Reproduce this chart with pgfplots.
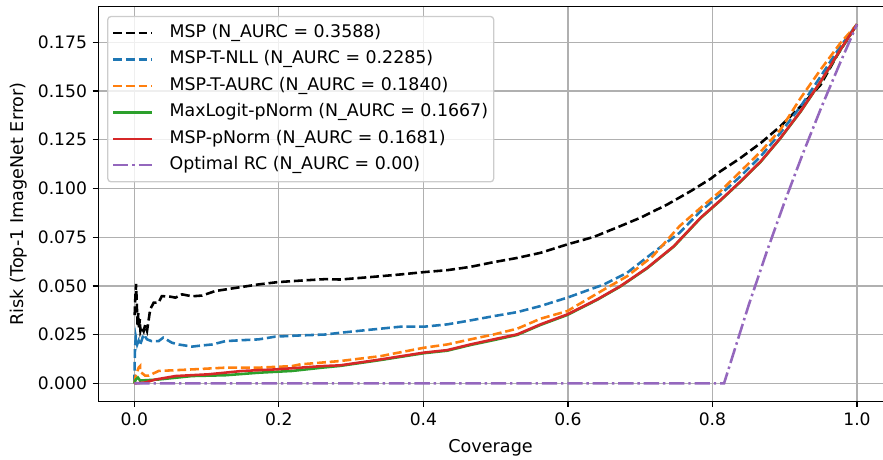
\documentclass[border=0pt]{standalone}
\usepackage{fontspec}
\setmainfont{DejaVu Sans}
\usepackage{pgfplots}
\pgfplotsset{compat=1.18}
\definecolor{tabblue}{HTML}{1F77B4}
\definecolor{taborange}{HTML}{FF7F0E}
\definecolor{tabgreen}{HTML}{2CA02C}
\definecolor{tabred}{HTML}{D62728}
\definecolor{tabpurple}{HTML}{9467BD}
\definecolor{gridgray}{HTML}{B0B0B0}
\definecolor{legedge}{HTML}{CCCCCC}
\begin{document}
\begin{tikzpicture}
\begin{axis}[
  scale only axis,
  width=490pt, height=246.6pt,
  xmin=-0.05, xmax=1.036,
  ymin=-0.0092, ymax=0.1934,
  axis x line*=box, axis y line*=left,
  axis line style={-, line width=0.8pt, black},
  xtick={0,0.2,0.4,0.6,0.8,1.0},
  ytick={0,0.025,0.05,0.075,0.1,0.125,0.15,0.175},
  xtick pos=bottom, ytick pos=left,
  tick align=outside,
  major tick length=3.5pt,
  tick style={line width=0.8pt, black},
  xticklabel style={/pgf/number format/.cd, fixed, fixed zerofill, precision=1, assume math mode=true},
  yticklabel style={/pgf/number format/.cd, fixed, fixed zerofill, precision=3, assume math mode=true},
  ticklabel style={font=\fontsize{10.7}{12}\selectfont},
  scaled y ticks=false,
  grid=major,
  major grid style={gridgray, line width=0.8pt},
  xlabel={Coverage},
  xlabel style={yshift=-1.5pt},
  ylabel={Risk (Top-1 ImageNet Error)},
  label style={font=\fontsize{11}{13}\selectfont},
  legend cell align=left,
  legend style={at={(0,1)}, anchor=north west, xshift=5.6pt, yshift=-5.9pt,
    draw=legedge, line width=0.8pt, rounded corners=2pt, fill=white, fill opacity=0.8, text opacity=1,
    font=\fontsize{10.85}{13}\selectfont, row sep=3.8pt, column sep=9.5pt, inner xsep=2.5pt, inner ysep=4pt,
    nodes={inner sep=1pt, text height=8pt, text depth=2.7pt}},
  legend image code/.code={\draw[#1] (0pt,0pt) -- (24pt,0pt);},
]
\addplot[black, line width=1.6pt, dash pattern=on 5.55pt off 2.4pt] coordinates {
(0.0005,0.035) (0.0015,0.045) (0.0025,0.051) (0.0035,0.040) (0.0045,0.030) (0.0055,0.036)
(0.0065,0.028) (0.0075,0.033) (0.0085,0.027) (0.0100,0.029) (0.0129,0.0268) (0.0150,0.030)
(0.0176,0.027) (0.0200,0.033) (0.022,0.038) (0.0267,0.0414) (0.0336,0.0415) (0.038,0.0448)
(0.05,0.0445) (0.057,0.044) (0.066,0.0457) (0.080,0.0447) (0.094,0.0451) (0.112,0.0474)
(0.14,0.049) (0.172,0.0508) (0.199,0.052) (0.232,0.0528) (0.264,0.0535) (0.285,0.0533)
(0.3406,0.055) (0.368,0.0559) (0.4005,0.0571) (0.433,0.0581) (0.465,0.0598) (0.497,0.0622)
(0.53,0.0644) (0.562,0.067) (0.599,0.0713) (0.636,0.0752) (0.6725,0.0807) (0.7003,0.085)
(0.7375,0.0918) (0.7697,0.0986) (0.7975,0.105) (0.811,0.1088) (0.839,0.1157) (0.867,0.1234)
(0.894,0.1319) (0.922,0.1421) (0.9497,0.1532) (0.973,0.1686) (1.0,0.1842)
};
\addlegendentry{MSP (N\_AURC = 0.3588)}
\addplot[tabblue, line width=1.6pt, dash pattern=on 5.55pt off 2.4pt] coordinates {
(0.0,0.0) (0.0005,0.010) (0.001,0.018) (0.002,0.024) (0.004,0.020) (0.006,0.022) (0.0083,0.020)
(0.0129,0.0252) (0.0176,0.0226) (0.024,0.0217) (0.0336,0.0217) (0.040,0.0235) (0.052,0.0209)
(0.061,0.020) (0.080,0.0189) (0.094,0.0195) (0.108,0.020) (0.126,0.0217) (0.149,0.0222)
(0.172,0.0226) (0.195,0.024) (0.2275,0.0246) (0.264,0.0251) (0.285,0.026) (0.3406,0.0281)
(0.368,0.0291) (0.4005,0.0291) (0.433,0.0303) (0.46,0.032) (0.497,0.0345) (0.53,0.0366)
(0.562,0.0397) (0.599,0.044) (0.65,0.0508) (0.682,0.0568) (0.7175,0.067) (0.7545,0.0773)
(0.7836,0.0884) (0.811,0.0969) (0.839,0.1063) (0.867,0.1166) (0.894,0.1285) (0.922,0.1421)
(0.9497,0.1575) (0.977,0.1729) (1.0,0.1842)
};
\addlegendentry{MSP-T-NLL (N\_AURC = 0.2285)}
\addplot[taborange, line width=1.6pt, dash pattern=on 5.55pt off 2.4pt] coordinates {
(0.0,0.0) (0.002,0.004) (0.0060,0.0081) (0.008,0.0089) (0.0083,0.0060) (0.0150,0.0040)
(0.0200,0.0040) (0.0336,0.0064) (0.08,0.0072) (0.126,0.0081) (0.172,0.0081) (0.218,0.0089)
(0.23,0.0098) (0.285,0.0115) (0.3406,0.014) (0.4005,0.0183) (0.433,0.020) (0.465,0.0226)
(0.497,0.0251) (0.53,0.0281) (0.562,0.0332) (0.599,0.0371) (0.65,0.0482) (0.682,0.055)
(0.7175,0.0653) (0.7545,0.0807) (0.7836,0.0901) (0.811,0.0986) (0.839,0.1088) (0.867,0.119)
(0.894,0.1302) (0.922,0.1464) (0.9497,0.161) (0.977,0.1746) (1.0,0.1842)
};
\addlegendentry{MSP-T-AURC (N\_AURC = 0.1840)}
\addplot[tabgreen, line width=1.6pt] coordinates {
(0.0,0.0) (0.002,0.002) (0.005,0.003) (0.008,0.0015) (0.033,0.002) (0.08,0.0038) (0.126,0.0042)
(0.172,0.0055) (0.218,0.0064) (0.26,0.0081) (0.285,0.0090) (0.3406,0.0120) (0.4005,0.0155)
(0.433,0.0168) (0.465,0.0197) (0.497,0.0222) (0.53,0.0249) (0.562,0.0300) (0.599,0.0351)
(0.6405,0.0429) (0.6725,0.0497) (0.7097,0.0591) (0.7465,0.0702) (0.7836,0.0848) (0.811,0.0938)
(0.839,0.1035) (0.867,0.1138) (0.894,0.1257) (0.922,0.1394) (0.9497,0.1547) (0.977,0.171) (1.0,0.1842)
};
\addlegendentry{MaxLogit-pNorm (N\_AURC = 0.1667)}
\addplot[tabred, line width=1.6pt] coordinates {
(0.0,0.0) (0.015,0.0005) (0.029,0.002) (0.057,0.0038) (0.103,0.0047) (0.149,0.0064) (0.195,0.0072)
(0.2298,0.0081) (0.26,0.0089) (0.285,0.0093) (0.3406,0.0123) (0.4005,0.0158) (0.433,0.0171)
(0.465,0.020) (0.497,0.0226) (0.53,0.0252) (0.562,0.0303) (0.599,0.0354) (0.6405,0.0431)
(0.6725,0.0499) (0.7097,0.0593) (0.7465,0.0704) (0.7836,0.0850) (0.811,0.0940) (0.839,0.1037)
(0.867,0.114) (0.894,0.1259) (0.922,0.1396) (0.9497,0.1549) (0.977,0.1712) (1.0,0.1842)
};
\addlegendentry{MSP-pNorm (N\_AURC = 0.1681)}
\addplot[tabpurple, line width=1.6pt, dash pattern=on 9.6pt off 2.4pt on 1.5pt off 2.4pt] coordinates {
(0.0,0.0) (0.816,0.0) (0.85,0.040) (0.875,0.0674) (0.9,0.0933) (0.925,0.1178) (0.95,0.141) (0.975,0.163) (1.0,0.1842)
};
\addlegendentry{Optimal RC (N\_AURC = 0.00)}
\end{axis}
\pgfresetboundingbox
\path ([xshift=-61.3pt,yshift=-36.3pt]current axis.south west) rectangle ([yshift=4pt]current axis.north east);
\end{tikzpicture}
\end{document}
